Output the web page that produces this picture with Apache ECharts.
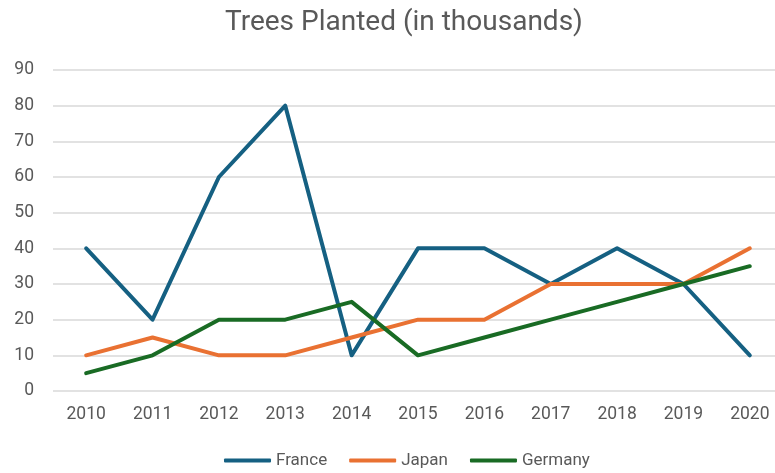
<!DOCTYPE html>
<html lang="en">
<head>
    <meta charset="UTF-8">
    <title>Trees Planted</title>
    <script src="https://cdn.jsdelivr.net/npm/echarts@6/dist/echarts.min.js"></script>
    <style>
        *{ margin:0; padding:0; }
        body,html{ width:100%; height:100%; overflow:hidden; background:#fff; }
        .box{ width:775px; height:473px; }
    </style>
</head>
<body>
<div class="box"></div>
<script>
    let years = ['2010','2011','2012','2013','2014','2015','2016','2017','2018','2019','2020'];
    let france = [40,20,60,80,10,40,40,30,40,30,10];
    let japan = [10,15,10,10,15,20,20,30,30,30,40];
    let germany = [5,10,20,20,25,10,15,20,25,30,35];

    let myChart = echarts.init(document.querySelector('.box'));

    function line(name, data, color){
        return {
            name, data, type:'line',
            symbol:'none',
            lineStyle:{ width:4, color, cap:'round', join:'round' },
            itemStyle:{ color }
        };
    }

    let option = {
        animation:false,
        title:{
            text:'Trees Planted (in thousands)',
            left:220,
            top:4,
            textStyle:{ color:'#595959', fontSize:28, fontWeight:'normal', fontFamily:'Roboto' }
        },
        grid:{ left:53, width:730, top:70, bottom:82, outerBoundsMode:'none', containLabel:false },
        legend:{
            top:447,
            left:219,
            itemWidth:47,
            itemHeight:4,
            itemGap:22,
            icon:'roundRect',
            textStyle:{ color:'#595959', fontSize:17, fontFamily:'Roboto' },
            data:['France','Japan','Germany']
        },
        xAxis:{
            type:'category',
            data:years,
            boundaryGap:true,
            axisLine:{ show:false },
            axisTick:{ show:false },
            axisLabel:{ color:'#595959', fontSize:17.5, margin:15, fontFamily:'Roboto' }
        },
        yAxis:{
            type:'value',
            min:0, max:90, interval:10,
            axisLabel:{ color:'#595959', fontSize:17.5, margin:19, fontFamily:'Roboto' },
            splitLine:{ lineStyle:{ color:'#d9d9d9', width:1.5 } }
        },
        series:[
            line('France', france, '#156082'),
            line('Japan', japan, '#e97132'),
            line('Germany', germany, '#196b24')
        ]
    };

    myChart.setOption(option);
</script>
</body>
</html>
